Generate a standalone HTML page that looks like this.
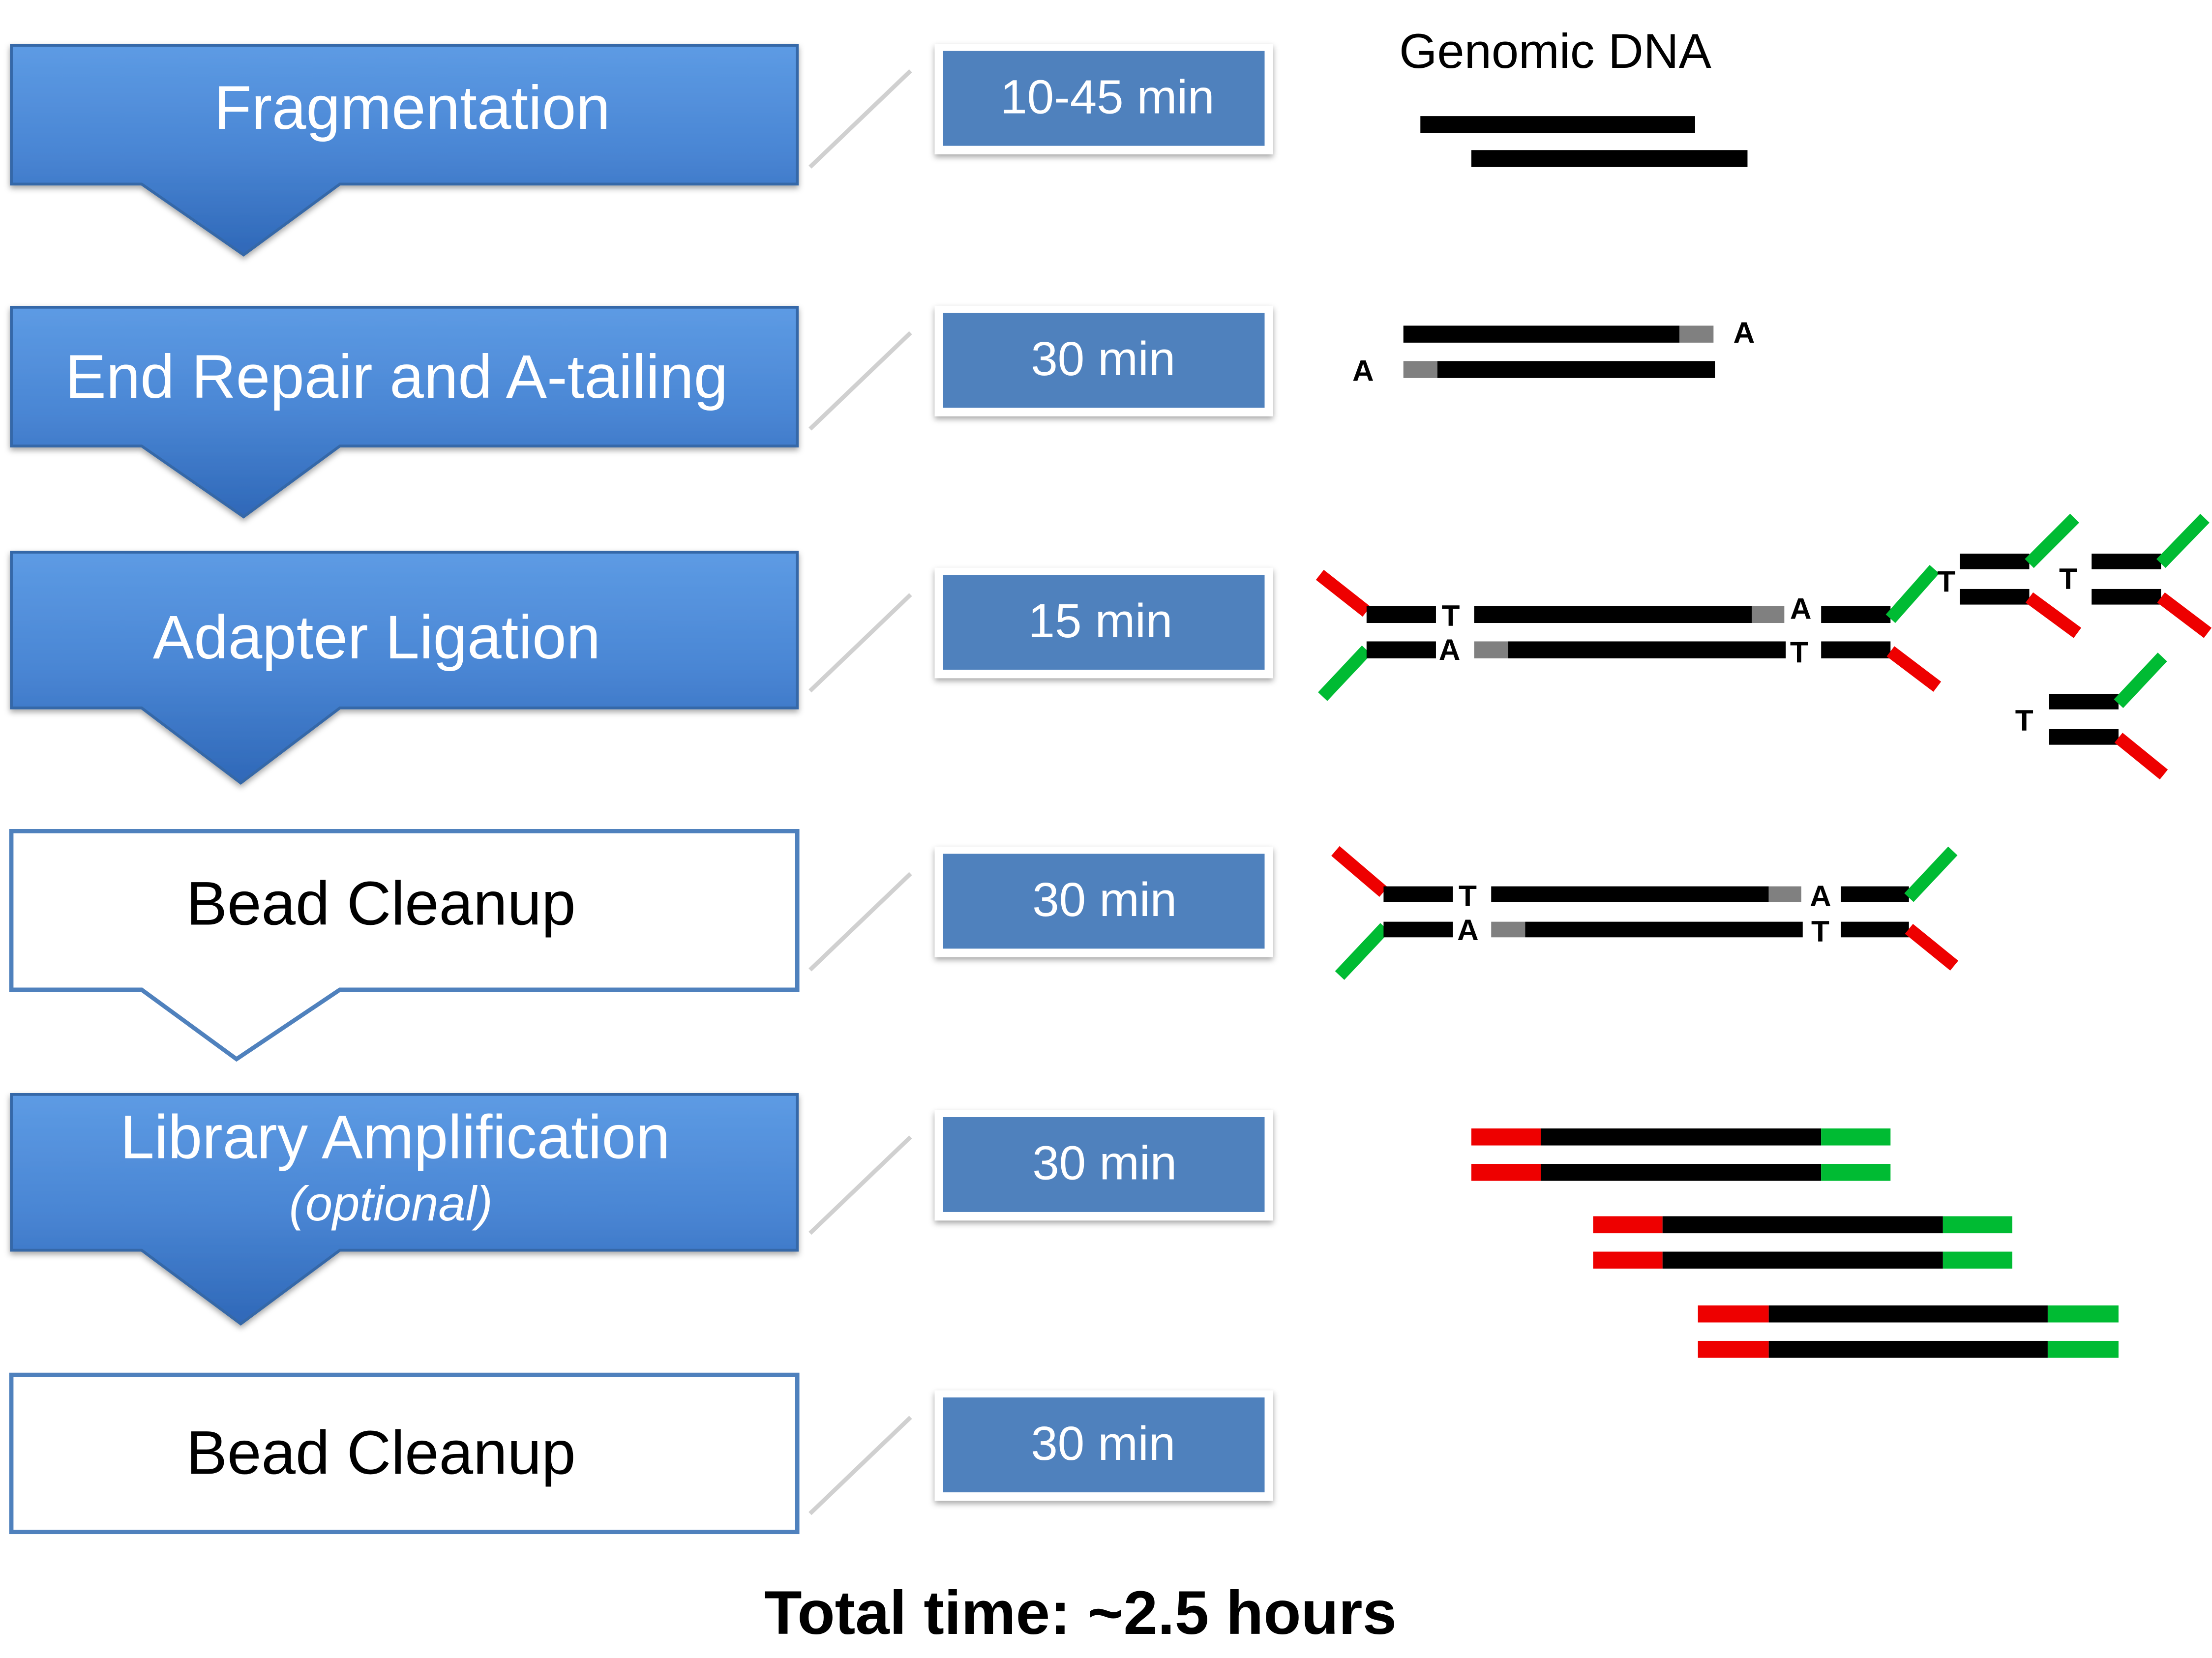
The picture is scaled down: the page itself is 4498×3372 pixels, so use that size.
<!DOCTYPE html>
<html><head><meta charset="utf-8"><style>
html,body{margin:0;padding:0;background:#fff}
svg{display:block}
text{font-family:"Liberation Sans",sans-serif}
</style></head><body>
<svg width="4498" height="3372" viewBox="0 0 1562 1171" xmlns="http://www.w3.org/2000/svg">
<defs>
<linearGradient id="bg" x1="0" y1="0" x2="0" y2="1">
<stop offset="0" stop-color="#5d9be4"/><stop offset="0.5" stop-color="#4a86d4"/><stop offset="1" stop-color="#2f68b8"/>
</linearGradient>
<filter id="sh" x="-5%" y="-5%" width="110%" height="120%"><feDropShadow dx="0" dy="2" stdDeviation="2" flood-color="#000" flood-opacity="0.35"/></filter>
</defs>

<g>
<path d="M8,32 H563 V130 H240 L172,180 L100,130 H8 Z" fill="url(#bg)" stroke="#3567a8" stroke-width="2" filter="url(#sh)"/>
<text x="291" y="91" font-size="43.4" fill="#fff" text-anchor="middle">Fragmentation</text></g>
<g>
<path d="M8,217 H563 V315 H240 L172,365 L100,315 H8 Z" fill="url(#bg)" stroke="#3567a8" stroke-width="2" filter="url(#sh)"/>
<text x="280" y="281" font-size="43.4" fill="#fff" text-anchor="middle">End Repair and A-tailing</text></g>
<g>
<path d="M8,390 H563 V500 H240 L170,553 L100,500 H8 Z" fill="url(#bg)" stroke="#3567a8" stroke-width="2" filter="url(#sh)"/>
<text x="266" y="465" font-size="43.4" fill="#fff" text-anchor="middle">Adapter Ligation</text></g>
<g>
<path d="M8,587 H563 V699 H240 L167,748 L100,699 H8 Z" fill="#fff" stroke="#4f81bd" stroke-width="3"/>
<text x="269" y="653" font-size="43.4" fill="#000" text-anchor="middle">Bead Cleanup</text></g>
<g>
<path d="M8,773 H563 V883 H240 L170,935 L100,883 H8 Z" fill="url(#bg)" stroke="#3567a8" stroke-width="2" filter="url(#sh)"/>
<text x="279" y="818" font-size="43.4" fill="#fff" text-anchor="middle">Library Amplification</text>
<text x="276" y="862" font-size="34.5" fill="#fff" text-anchor="middle" font-style="italic">(optional)</text></g>
<g>
<rect x="8" y="971" width="555" height="111" fill="#fff" stroke="#4f81bd" stroke-width="3"/>
<text x="269" y="1041" font-size="43.4" fill="#000" text-anchor="middle">Bead Cleanup</text></g>

<g stroke="#d0d0d0" stroke-width="3">
<line x1="572" y1="118" x2="643" y2="50"/><line x1="572" y1="303" x2="643" y2="235"/>
<line x1="572" y1="488" x2="643" y2="420"/><line x1="572" y1="685" x2="643" y2="617"/>
<line x1="572" y1="871" x2="643" y2="803"/><line x1="572" y1="1069" x2="643" y2="1001"/>
</g>

<g font-size="34" fill="#fff" text-anchor="middle">
<g><rect x="660" y="31" width="239" height="78" fill="#fff" filter="url(#sh)"/><rect x="666" y="36" width="227" height="67" fill="#4f81bd"/><text x="782" y="80">10-45 min</text></g>
<g><rect x="660" y="216" width="239" height="78" fill="#fff" filter="url(#sh)"/><rect x="666" y="221" width="227" height="67" fill="#4f81bd"/><text x="779" y="265">30 min</text></g>
<g><rect x="660" y="401" width="239" height="78" fill="#fff" filter="url(#sh)"/><rect x="666" y="406" width="227" height="67" fill="#4f81bd"/><text x="777" y="450">15 min</text></g>
<g><rect x="660" y="598" width="239" height="78" fill="#fff" filter="url(#sh)"/><rect x="666" y="603" width="227" height="67" fill="#4f81bd"/><text x="780" y="647">30 min</text></g>
<g><rect x="660" y="784" width="239" height="78" fill="#fff" filter="url(#sh)"/><rect x="666" y="789" width="227" height="67" fill="#4f81bd"/><text x="780" y="833">30 min</text></g>
<g><rect x="660" y="982" width="239" height="78" fill="#fff" filter="url(#sh)"/><rect x="666" y="987" width="227" height="67" fill="#4f81bd"/><text x="779" y="1031">30 min</text></g>
</g>

<g>
<text x="988" y="48" font-size="34.5">Genomic DNA</text>
<rect x="1003" y="82" width="194" height="12"/><rect x="1039" y="106" width="195" height="12"/></g>

<g>
<rect x="991" y="230" width="195" height="12"/><rect x="1186" y="230" width="24" height="12" fill="#808080"/>
<rect x="991" y="255" width="24" height="12" fill="#808080"/><rect x="1015" y="255" width="196" height="12"/>
<text x="1224" y="242" font-size="21" font-weight="bold">A</text><text x="955" y="269" font-size="21" font-weight="bold">A</text></g>

<g font-size="21" font-weight="bold">
<line x1="932" y1="406" x2="965" y2="432" stroke="#e00" stroke-width="9"/>
<line x1="934" y1="492" x2="965" y2="459" stroke="#0b3" stroke-width="9"/>
<rect x="965" y="428" width="49" height="12"/><rect x="965" y="453" width="49" height="12"/>
<text x="1018" y="442">T</text><text x="1016" y="466">A</text>
<rect x="1041" y="428" width="196" height="12"/><rect x="1237" y="428" width="23" height="12" fill="#808080"/>
<rect x="1041" y="453" width="24" height="12" fill="#808080"/><rect x="1065" y="453" width="196" height="12"/>
<text x="1264" y="437">A</text><text x="1264" y="468">T</text>
<rect x="1286" y="428" width="49" height="12"/><rect x="1286" y="453" width="49" height="12"/>
<line x1="1335" y1="437" x2="1366" y2="402" stroke="#0b3" stroke-width="9"/>
<line x1="1335" y1="460" x2="1368" y2="485" stroke="#e00" stroke-width="9"/>
<rect x="1384" y="391" width="49" height="11"/><rect x="1384" y="416" width="49" height="11"/>
<line x1="1433" y1="398" x2="1465" y2="366" stroke="#0b3" stroke-width="9"/><line x1="1433" y1="422" x2="1467" y2="447" stroke="#e00" stroke-width="9"/>
<text x="1368" y="418">T</text>
<rect x="1477" y="391" width="49" height="11"/><rect x="1477" y="416" width="49" height="11"/>
<line x1="1526" y1="398" x2="1557" y2="366" stroke="#0b3" stroke-width="9"/><line x1="1526" y1="422" x2="1559" y2="447" stroke="#e00" stroke-width="9"/>
<text x="1454" y="416">T</text>
<rect x="1447" y="490" width="49" height="11"/><rect x="1447" y="515" width="49" height="11"/>
<line x1="1496" y1="497" x2="1527" y2="464" stroke="#0b3" stroke-width="9"/><line x1="1496" y1="521" x2="1528" y2="547" stroke="#e00" stroke-width="9"/>
<text x="1423" y="516">T</text></g>

<g font-size="21" font-weight="bold">
<line x1="943" y1="601" x2="977" y2="630" stroke="#e00" stroke-width="9"/>
<line x1="946" y1="689" x2="978" y2="655" stroke="#0b3" stroke-width="9"/>
<rect x="977" y="626" width="49" height="11"/><rect x="977" y="651" width="49" height="11"/>
<text x="1030" y="640">T</text><text x="1029" y="664">A</text>
<rect x="1053" y="626" width="196" height="11"/><rect x="1249" y="626" width="23" height="11" fill="#808080"/>
<rect x="1053" y="651" width="24" height="11" fill="#808080"/><rect x="1077" y="651" width="196" height="11"/>
<text x="1278" y="640">A</text><text x="1279" y="665">T</text>
<rect x="1300" y="626" width="48" height="11"/><rect x="1300" y="651" width="48" height="11"/>
<line x1="1348" y1="634" x2="1379" y2="601" stroke="#0b3" stroke-width="9"/>
<line x1="1348" y1="656" x2="1380" y2="682" stroke="#e00" stroke-width="9"/></g>

<g>
<rect x="1039" y="797" width="49" height="12" fill="#e00"/><rect x="1088" y="797" width="198" height="12"/><rect x="1286" y="797" width="49" height="12" fill="#0b3"/>
<rect x="1039" y="822" width="49" height="12" fill="#e00"/><rect x="1088" y="822" width="198" height="12"/><rect x="1286" y="822" width="49" height="12" fill="#0b3"/>
<rect x="1125" y="859" width="49" height="12" fill="#e00"/><rect x="1174" y="859" width="198" height="12"/><rect x="1372" y="859" width="49" height="12" fill="#0b3"/>
<rect x="1125" y="884" width="49" height="12" fill="#e00"/><rect x="1174" y="884" width="198" height="12"/><rect x="1372" y="884" width="49" height="12" fill="#0b3"/>
<rect x="1199" y="922" width="50" height="12" fill="#e00"/><rect x="1249" y="922" width="197" height="12"/><rect x="1446" y="922" width="50" height="12" fill="#0b3"/>
<rect x="1199" y="947" width="50" height="12" fill="#e00"/><rect x="1249" y="947" width="197" height="12"/><rect x="1446" y="947" width="50" height="12" fill="#0b3"/></g>

<text x="763" y="1154" font-size="43.4" font-weight="bold" text-anchor="middle">Total time: ~2.5 hours</text>
</svg>
</body></html>
